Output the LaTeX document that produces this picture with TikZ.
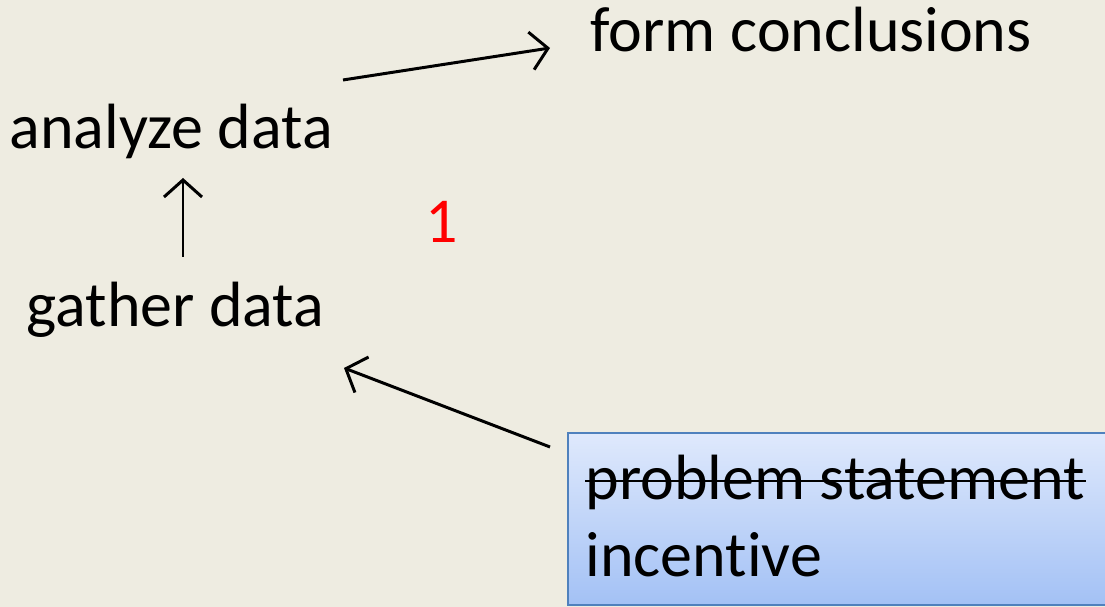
\documentclass[tikz,border=0pt]{standalone}
\usepackage{fontspec}
\setmainfont{Carlito}[Ligatures=NoCommon]
\usetikzlibrary{arrows.meta}

\definecolor{slidebg}{HTML}{EEECE1}
\definecolor{boxedge}{HTML}{4F81BD}
\definecolor{boxtop}{HTML}{DFE9FC}
\definecolor{boxbottom}{HTML}{A3C1F5}

\tikzset{
    step label/.style={inner sep=0pt, font=\fontsize{18.2}{22.2}\selectfont},
    flow/.style={line width=0.85pt, -{Straight Barb[length=1.7mm, width=3.8mm, line width=0.85pt]}},
    incbox/.style={draw=boxedge, line width=0.6pt, top color=boxtop, bottom color=boxbottom,
        minimum width=5.5cm, minimum height=1.72cm, inner sep=0pt}
}

\begin{document}
\begin{tikzpicture}
        \fill[slidebg] (0, 0) rectangle (11.05, 6.07);
        \useasboundingbox (0, 0) rectangle (11.05, 6.07);

        \node[step label, anchor=base west] (form) at(5.90, 5.55){form conclusions};
        \node[step label, anchor=base west] (analyze) at(0.09, 4.58){analyze data};
        \node[step label, anchor=base west] (gather) at(0.26, 2.80){gather data};
        \node[step label, anchor=base, red] (one) at(4.42, 3.64){1};

        \node[incbox, anchor=north west] (incentive box) at(5.67, 1.75){};
            \node[step label, anchor=base west] (problem) at(5.85, 1.07){problem statement};
            \node[step label, anchor=base west] (incentive) at(5.85, 0.30){incentive};
            \draw[line width=0.7pt]([yshift=0.19cm]problem.base west) to ([yshift=0.19cm]problem.base east);

        \coordinate (analyze out) at(3.43, 5.27);
        \coordinate (form in) at(5.50, 5.59);
        \coordinate (gather out) at(1.83, 3.50);
        \coordinate (analyze in) at(1.83, 4.29);
        \coordinate (box out) at(5.50, 1.60);
        \coordinate (gather in) at(3.44, 2.39);

        \draw[flow](analyze out) to (form in);
        \draw[flow](gather out) to (analyze in);
        \draw[flow](box out) to (gather in);
    \end{tikzpicture}
\end{document}
